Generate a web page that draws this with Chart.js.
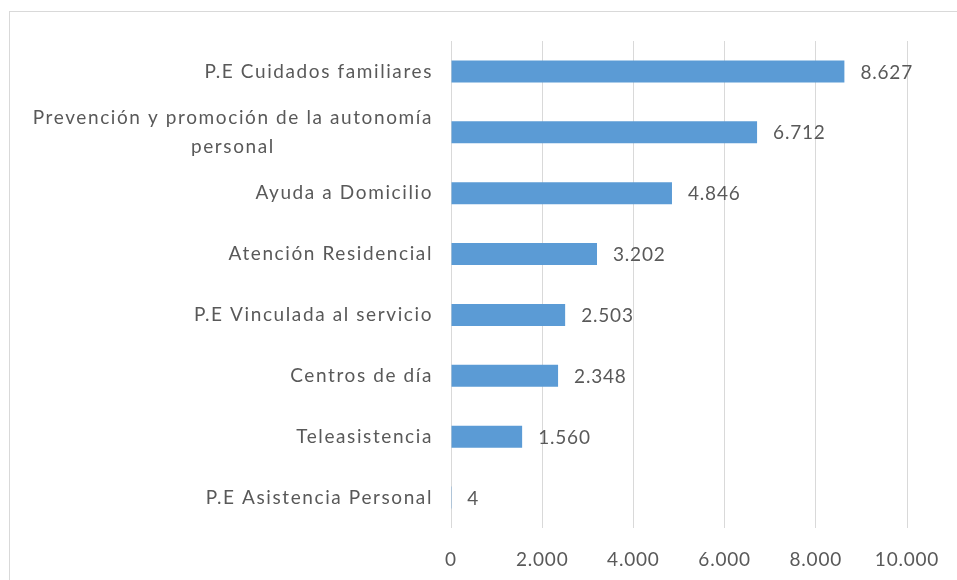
<!DOCTYPE html>
<html>
<head>
<meta charset="utf-8">
<script src="https://cdn.jsdelivr.net/npm/chart.js@4"></script>
<style>
  html, body { margin: 0; padding: 0; background: #fff; }
  #wrap { width: 957px; height: 580px; }
</style>
</head>
<body>
<div id="wrap"><canvas id="barChart" width="957" height="580"></canvas></div>
<script>
// datos
var categorias = [
  "P.E Cuidados familiares",
  ["Prevención y promoción de la autonomía", "personal"],
  "Ayuda a Domicilio",
  "Atención Residencial",
  "P.E Vinculada al servicio",
  "Centros de día",
  "Teleasistencia",
  "P.E Asistencia Personal"
];
var valores = [8627, 6712, 4846, 3202, 2503, 2348, 1560, 4];
var ticksX = [0, 2000, 4000, 6000, 8000, 10000];

var FONT = "Lato, 'Open Sans', sans-serif";
var TXT = "#595959";

function miles(v) {
  return String(v).replace(/\B(?=(\d{3})+(?!\d))/g, ".");
}

// marco gris del grafico
var marco = {
  id: 'marco',
  beforeDraw: function(chart) {
    var ctx = chart.ctx;
    ctx.save();
    ctx.strokeStyle = '#d9d9d9';
    ctx.lineWidth = 1;
    ctx.strokeRect(9.5, 11.5, 1200, 1200);
    ctx.restore();
    ctx.letterSpacing = '0.8px'; // ticks del eje x
  }
};

// etiquetas de categoria (lineas centradas entre si, bloque alineado a la derecha)
var etiquetasY = {
  id: 'etiquetasY',
  afterDraw: function(chart) {
    var ctx = chart.ctx, y = chart.scales.y;
    ctx.save();
    ctx.font = "19px " + FONT;
    ctx.letterSpacing = '1.6px';
    ctx.fillStyle = TXT;
    ctx.textBaseline = 'middle';
    ctx.textAlign = 'center';
    var derecha = 433, alto = 29;
    categorias.forEach(function(c, i) {
      var lineas = Array.isArray(c) ? c : [c];
      var w = Math.max.apply(null, lineas.map(function(l) { return ctx.measureText(l).width; }));
      var cx = derecha - w / 2;
      var py = y.getPixelForTick(i) - (lineas.length - 1) * alto / 2;
      lineas.forEach(function(l, k) { ctx.fillText(l, cx, py + k * alto); });
    });
    ctx.restore();
  }
};

// valores al final de cada barra
var valoresBarras = {
  id: 'valoresBarras',
  afterDatasetsDraw: function(chart) {
    var ctx = chart.ctx;
    var meta = chart.getDatasetMeta(0);
    ctx.save();
    ctx.font = "19px " + FONT;
    ctx.letterSpacing = '0.8px';
    ctx.fillStyle = TXT;
    ctx.textAlign = 'left';
    ctx.textBaseline = 'middle';
    meta.data.forEach(function(bar, i) {
      ctx.fillText(miles(valores[i]), bar.x + 16, bar.y + 1);
    });
    ctx.restore();
  }
};

var ctxB = document.getElementById("barChart").getContext('2d');
var grafico = new Chart(ctxB, {
  type: 'bar',
  data: {
    labels: categorias,
    datasets: [{
      data: valores,
      backgroundColor: "#5B9BD5",
      borderWidth: 0,
      categoryPercentage: 0.8,
      barPercentage: 0.45
    }]
  },
  options: {
    indexAxis: 'y',
    responsive: false,
    animation: false,
    layout: { padding: { top: 41, right: 50, bottom: 0, left: 0 } },
    plugins: {
      legend: { display: false },
      tooltip: { enabled: false }
    },
    scales: {
      x: {
        min: 0,
        max: 10000,
        afterBuildTicks: function(s) { s.ticks = ticksX.map(function(v) { return { value: v }; }); },
        afterFit: function(s) { s.height = 52; },
        grid: { color: '#d9d9d9', lineWidth: 1, drawTicks: false },
        border: { display: false },
        ticks: {
          padding: 20,
          color: TXT,
          font: { family: FONT, size: 19 },
          callback: function(v) { return miles(v); }
        }
      },
      y: {
        afterFit: function(s) { s.width = 451; },
        grid: { display: false },
        border: { display: false },
        ticks: { color: 'transparent', font: { family: FONT, size: 17 } }
      }
    }
  },
  plugins: [marco, etiquetasY, valoresBarras]
});
</script>
</body>
</html>
